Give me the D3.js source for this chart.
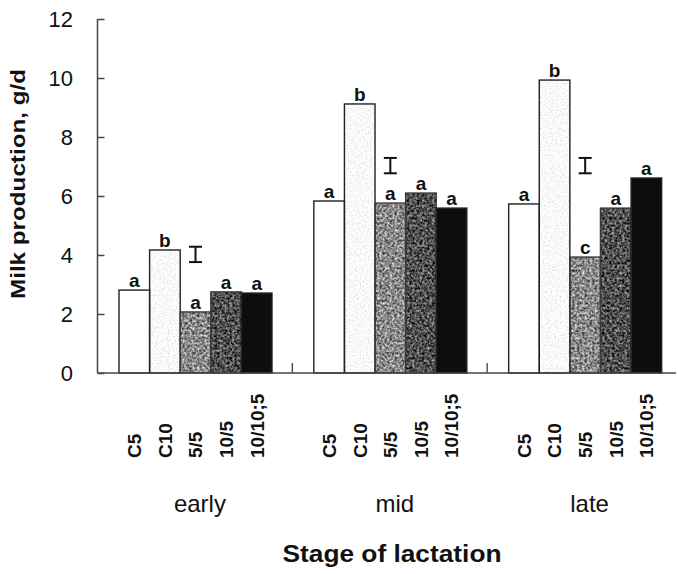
<!DOCTYPE html>
<html>
<head>
<meta charset="utf-8">
<script src="https://cdn.jsdelivr.net/npm/d3@7/dist/d3.min.js"></script>
<style>
  html, body { margin: 0; padding: 0; background: #ffffff; }
  svg { display: block; font-family: "Liberation Sans", Arial, Helvetica, sans-serif; }
</style>
</head>
<body>
<svg id="chart" width="678" height="574"></svg>
<script>
// Milk production (g/d) by stage of lactation and feeding treatment
const stages = ["early", "mid", "late"];
const treatments = ["C5", "C10", "5/5", "10/5", "10/10;5"];
const earlyValues = [2.81, 4.17, 2.07, 2.75, 2.71];
const midValues = [5.83, 9.12, 5.76, 6.10, 5.59];
const lateValues = [5.73, 9.93, 3.93, 5.59, 6.61];
const earlyLetters = ["a", "b", "a", "a", "a"];
const midLetters = ["a", "b", "a", "a", "a"];
const lateLetters = ["a", "b", "c", "a", "a"];
// pooled SE bar per stage: centre and half-length
const seCentre = [4.02, 7.03, 7.03];
const seHalf = [0.26, 0.26, 0.26];
const yTicks = [0, 2, 4, 6, 8, 10, 12];

const valuesByStage = [earlyValues, midValues, lateValues];
const lettersByStage = [earlyLetters, midLetters, lateLetters];

// bar appearance per treatment
const barStyle = {
  "C5":      { fill: "#ffffff", amp: 0,    freq: 0 },
  "C10":     { fill: "#fbfbfb", amp: 0.35, freq: 0.6 },
  "5/5":     { fill: "#8a8a8a", amp: 1.1,  freq: 0.4 },
  "10/5":    { fill: "#505050", amp: 1.1,  freq: 0.4 },
  "10/10;5": { fill: "#0d0d0d", amp: 0,    freq: 0 }
};

const svg = d3.select("#chart");
const defs = svg.append("defs");

treatments.forEach((t, i) => {
  const s = barStyle[t];
  if (!s.amp) return;
  const f = defs.append("filter")
    .attr("id", "grain" + i)
    .attr("x", 0).attr("y", 0).attr("width", 1).attr("height", 1)
    .attr("color-interpolation-filters", "sRGB");
  f.append("feTurbulence")
    .attr("type", "fractalNoise")
    .attr("baseFrequency", s.freq)
    .attr("numOctaves", 3)
    .attr("seed", i + 3)
    .attr("result", "noise");
  f.append("feColorMatrix")
    .attr("in", "noise")
    .attr("type", "matrix")
    .attr("values", "1 0 0 0 0  1 0 0 0 0  1 0 0 0 0  0 0 0 0 1")
    .attr("result", "grey");
  f.append("feComposite")
    .attr("in", "SourceGraphic").attr("in2", "grey")
    .attr("operator", "arithmetic")
    .attr("k1", 0).attr("k2", 1).attr("k3", s.amp).attr("k4", -s.amp / 2)
    .attr("result", "mix");
  f.append("feComposite")
    .attr("in", "mix").attr("in2", "SourceAlpha")
    .attr("operator", "in");
});

const plotLeft = 97.5;
const y = d3.scaleLinear().domain([0, 12]).range([373, 19]);
const x0 = d3.scaleBand().domain(stages).range([plotLeft, 682]).paddingInner(0).paddingOuter(0);
const x1 = d3.scaleBand().domain(treatments).range([21.5, 174.5]).padding(0);

const rows = [];
stages.forEach((st, gi) => {
  treatments.forEach((t, ti) => {
    rows.push({ stage: st, treatment: t, ti, value: valuesByStage[gi][ti], letter: lettersByStage[gi][ti] });
  });
});

const barX = d => x0(d.stage) + x1(d.treatment);

// bar fills (textured), then outlines on top
svg.append("g").selectAll("rect")
  .data(rows).join("rect")
  .attr("x", barX)
  .attr("y", d => y(d.value))
  .attr("width", x1.bandwidth())
  .attr("height", d => y(0) - y(d.value))
  .attr("fill", d => barStyle[d.treatment].fill)
  .attr("filter", d => barStyle[d.treatment].amp ? "url(#grain" + d.ti + ")" : null);

svg.append("g").selectAll("rect")
  .data(rows).join("rect")
  .attr("x", barX)
  .attr("y", d => y(d.value))
  .attr("width", x1.bandwidth())
  .attr("height", d => y(0) - y(d.value))
  .attr("fill", "none")
  .attr("stroke", d => (d.treatment === "5/5" || d.treatment === "10/5") ? "#3a3a3a" : "#222")
  .attr("stroke-width", 1.4);

// significance letters
svg.append("g").selectAll("text")
  .data(rows).join("text")
  .attr("x", d => barX(d) + x1.bandwidth() / 2)
  .attr("y", d => y(d.value) - 3)
  .attr("text-anchor", "middle")
  .attr("font-size", 19)
  .attr("font-weight", "bold")
  .attr("fill", "#111")
  .text(d => d.letter);

// SE bars above the middle bar of each stage
const seG = svg.append("g").attr("stroke", "#111").attr("stroke-width", 2).attr("fill", "none");
stages.forEach((st, gi) => {
  const cx = x0(st) + x1("5/5") + x1.bandwidth() / 2;
  const yTop = y(seCentre[gi] + seHalf[gi]);
  const yBot = y(seCentre[gi] - seHalf[gi]);
  seG.append("line").attr("x1", cx).attr("x2", cx).attr("y1", yTop).attr("y2", yBot);
  seG.append("line").attr("x1", cx - 6.5).attr("x2", cx + 6.5).attr("y1", yTop).attr("y2", yTop);
  seG.append("line").attr("x1", cx - 6.5).attr("x2", cx + 6.5).attr("y1", yBot).attr("y2", yBot);
});

// y axis: line, inward ticks, labels
const yAxisG = svg.append("g").attr("transform", `translate(${plotLeft},0)`);
yAxisG.call(d3.axisRight(y).tickValues(yTicks).tickSize(7).tickFormat(""))
  .call(g => g.select(".domain").attr("stroke", "#444").attr("stroke-width", 1.5).attr("d", `M0,${y(12)}V${y(0)}`))
  .call(g => g.selectAll(".tick line").attr("stroke", "#444").attr("stroke-width", 1.5));

svg.append("g").selectAll("text")
  .data(yTicks).join("text")
  .attr("x", 73)
  .attr("y", d => y(d))
  .attr("dy", "0.36em")
  .attr("text-anchor", "end")
  .attr("font-size", 22)
  .attr("fill", "#111")
  .text(d => d);

// baseline with small separators between stages
svg.append("line")
  .attr("x1", plotLeft).attr("x2", 676)
  .attr("y1", y(0)).attr("y2", y(0))
  .attr("stroke", "#444").attr("stroke-width", 1.5);
svg.append("g").selectAll("line")
  .data(stages.slice(1)).join("line")
  .attr("x1", d => x0(d)).attr("x2", d => x0(d))
  .attr("y1", y(0)).attr("y2", y(0) - 10)
  .attr("stroke", "#555").attr("stroke-width", 1.5);

// treatment labels (rotated)
svg.append("g").selectAll("text")
  .data(rows).join("text")
  .attr("transform", d => `translate(${barX(d) + x1.bandwidth() / 2},458) rotate(-90)`)
  .attr("dy", "0.36em")
  .attr("text-anchor", "start")
  .attr("font-size", 19)
  .attr("font-weight", "bold")
  .attr("fill", "#111")
  .text(d => d.treatment);

// stage labels
svg.append("g").selectAll("text")
  .data(stages).join("text")
  .attr("x", d => x0(d) + x0.bandwidth() / 2 + 5)
  .attr("y", 512)
  .attr("text-anchor", "middle")
  .attr("font-size", 24)
  .attr("fill", "#111")
  .text(d => d);

// axis titles
svg.append("text")
  .attr("x", 392).attr("y", 562)
  .attr("text-anchor", "middle")
  .attr("font-size", 24)
  .attr("font-weight", "bold")
  .attr("textLength", 219)
  .attr("lengthAdjust", "spacingAndGlyphs")
  .attr("fill", "#111")
  .text("Stage of lactation");

svg.append("text")
  .attr("transform", "translate(25,184) rotate(-90)")
  .attr("text-anchor", "middle")
  .attr("font-size", 20)
  .attr("font-weight", "bold")
  .attr("textLength", 230)
  .attr("lengthAdjust", "spacingAndGlyphs")
  .attr("fill", "#111")
  .text("Milk production, g/d");
</script>
</body>
</html>
